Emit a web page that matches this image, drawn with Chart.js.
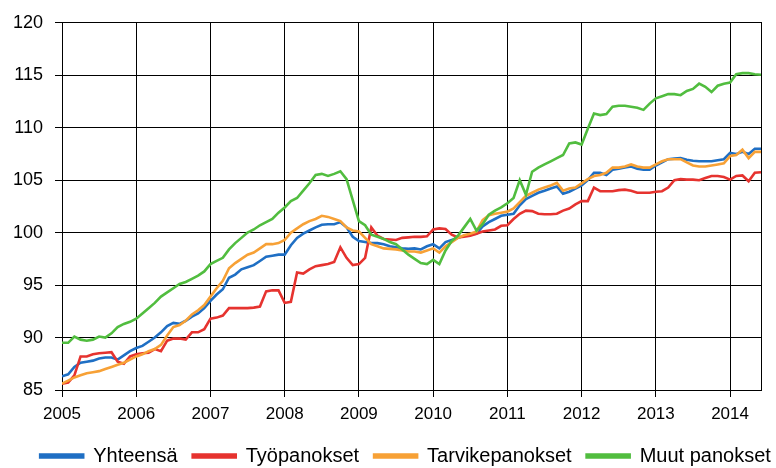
<!DOCTYPE html>
<html>
<head>
<meta charset="utf-8">
<script src="https://cdn.jsdelivr.net/npm/chart.js@4.4.1/dist/chart.umd.min.js"></script>
<style>
  html, body { margin: 0; padding: 0; background: #fff; }
  #wrap { width: 776px; height: 468px; }
</style>
</head>
<body>
<div id="wrap"><canvas id="chart"></canvas></div>
<script>
// --- DATOS (kuukausittain, tammikuu 2005 - kesäkuu 2014) ---
const yearLabels = ['2005', '2006', '2007', '2008', '2009', '2010', '2011', '2012', '2013', '2014'];
const seriesNames = ['Yhteensä', 'Työpanokset', 'Tarvikepanokset', 'Muut panokset'];
const seriesColors = ['#1f6fc4', '#e6332f', '#f7a136', '#51bd3f'];

const yhteensa = [
  86.3, 86.5, 87.2, 87.6, 87.7, 87.8, 88.0, 88.1, 88.1, 87.9, 88.3, 88.7,
  89.0, 89.2, 89.6, 90.0, 90.5, 91.1, 91.4, 91.3, 91.6, 92.0, 92.3, 92.8,
  93.5, 94.1, 94.6, 95.7, 96.0, 96.5, 96.7, 96.9, 97.3, 97.7, 97.8, 97.9,
  97.9, 98.8, 99.5, 99.9, 100.2, 100.5, 100.75, 100.8, 100.8, 101.0, 100.5, 99.6,
  99.2, 99.1, 99.0, 99.0, 98.9, 98.7, 98.6, 98.5, 98.45, 98.5, 98.4, 98.7,
  98.9, 98.5, 99.1, 99.3, 99.5, 99.7, 99.85, 99.9, 100.6, 101.0, 101.3, 101.6,
  101.7, 101.8, 102.6, 103.2, 103.5, 103.8, 104.0, 104.2, 104.4, 103.7, 103.9, 104.2,
  104.5, 105.0, 105.7, 105.7, 105.5, 106.0, 106.1, 106.2, 106.3, 106.1, 106.0, 106.0,
  106.4, 106.7, 107.0, 107.05, 107.1, 106.95, 106.85, 106.8, 106.8, 106.8, 106.9, 107.0,
  107.6, 107.5, 107.7, 107.5, 108.0, 108.0
];
const tyopanokset = [
  85.6, 85.7, 86.4, 88.2, 88.2, 88.4, 88.5, 88.55, 88.6, 87.7, 87.5, 88.2,
  88.4, 88.5, 88.55, 88.9, 88.7, 89.7, 89.9, 89.9, 89.8, 90.5, 90.5, 90.8,
  91.8, 91.9, 92.1, 92.8, 92.8, 92.8, 92.8, 92.85, 92.95, 94.4, 94.5, 94.5,
  93.3, 93.4, 96.2, 96.1, 96.5, 96.8, 96.9, 97.0, 97.2, 98.6, 97.6, 96.9,
  97.0, 97.6, 100.5, 99.7, 99.4, 99.35, 99.3, 99.5, 99.55, 99.6, 99.6, 99.65,
  100.3, 100.4, 100.35, 99.8, 99.55, 99.6, 99.7, 99.9, 100.1, 100.2, 100.3, 100.65,
  100.7, 101.3, 101.8, 102.1, 102.05, 101.8, 101.75, 101.75, 101.8, 102.1, 102.3, 102.7,
  103.0, 103.0, 104.3, 103.95, 103.95, 103.95, 104.05, 104.1, 104.0, 103.8, 103.8, 103.8,
  103.9, 103.95, 104.3, 105.0, 105.1, 105.05, 105.05, 105.0, 105.2, 105.4, 105.4, 105.3,
  105.05, 105.4, 105.45, 104.9, 105.7, 105.75
];
const tarvikepanokset = [
  85.6, 85.9, 86.2, 86.4, 86.6, 86.7, 86.8, 87.0, 87.2, 87.4, 87.6, 87.9,
  88.2, 88.4, 88.7, 88.9, 89.3, 90.2, 91.0, 91.2, 91.6, 92.2, 92.6, 93.1,
  93.9, 94.7, 95.4, 96.6, 97.1, 97.5, 97.9, 98.1, 98.5, 98.9, 98.9, 99.0,
  99.3, 100.0, 100.4, 100.8, 101.1, 101.3, 101.6, 101.5, 101.3, 101.1, 100.5, 100.2,
  100.1, 99.5, 98.9, 98.7, 98.5, 98.45, 98.4, 98.3, 98.2, 98.2, 98.1, 98.3,
  98.5, 98.1, 98.7, 99.1, 99.5, 99.75, 99.9, 100.1, 101.2, 101.65, 101.8, 101.9,
  102.0, 102.3, 102.9, 103.5, 103.8, 104.1, 104.3, 104.5, 104.75, 104.0, 104.2, 104.3,
  104.7, 105.1, 105.4, 105.5, 105.7, 106.2, 106.2, 106.3, 106.5, 106.3, 106.2, 106.2,
  106.5, 106.8, 107.0, 107.0, 107.0, 106.7, 106.4, 106.3, 106.3, 106.4, 106.5, 106.6,
  107.3, 107.4, 107.9, 107.1, 107.7, 107.7
];
const muutPanokset = [
  89.5, 89.5, 90.1, 89.8, 89.7, 89.8, 90.1, 90.0, 90.4, 91.0, 91.3, 91.5,
  91.8, 92.3, 92.8, 93.3, 93.9, 94.3, 94.7, 95.1, 95.3, 95.6, 95.9, 96.3,
  97.0, 97.3, 97.6, 98.4, 99.0, 99.5, 100.0, 100.3, 100.7, 101.0, 101.3, 101.9,
  102.4, 103.0, 103.3, 104.0, 104.7, 105.5, 105.6, 105.4, 105.6, 105.85, 105.1, 103.1,
  101.1, 100.7, 99.8, 99.6, 99.4, 99.1, 98.9, 98.4, 97.9, 97.5, 97.1, 97.0,
  97.4, 97.0, 98.3, 99.2, 99.7, 100.5, 101.3, 100.2, 100.8, 101.7, 102.1, 102.4,
  102.8, 103.3, 105.0, 103.6, 105.8, 106.2, 106.5, 106.8, 107.1, 107.4, 108.5, 108.6,
  108.4, 109.9, 111.35, 111.2, 111.3, 112.0, 112.1, 112.1, 112.0, 111.9, 111.7, 112.3,
  112.8, 113.0, 113.2, 113.2, 113.1, 113.5, 113.7, 114.2, 113.9, 113.4, 114.0, 114.2,
  114.3, 115.1, 115.2, 115.2, 115.1, 115.05
];
const yTicks = [85, 90, 95, 100, 105, 110, 115, 120];

// x = kuukauden järjestysnumero
function toPoints(values) {
  return values.map((v, i) => ({ x: i, y: v }));
}

const allSeries = [yhteensa, tyopanokset, tarvikepanokset, muutPanokset];
const lastIndex = yhteensa.length - 1;

const datasets = allSeries.map((values, k) => ({
  label: seriesNames[k],
  data: toPoints(values),
  borderColor: seriesColors[k],
  backgroundColor: seriesColors[k],
  borderWidth: 2.6,
  pointRadius: 0,
  tension: 0,
  order: allSeries.length - k   // viimeinen sarja päällimmäisenä
}));

// Siirretään selitettä hieman alas ja oikealle
const legendShift = {
  id: 'legendShift',
  afterLayout(chart) {
    const lg = chart.legend;
    if (!lg) return;
    lg.left += 25; lg.right += 25;
    lg.top += 8; lg.bottom += 8;
  }
};

new Chart(document.getElementById('chart'), {
  type: 'line',
  data: { datasets: datasets },
  options: {
    responsive: true,
    maintainAspectRatio: false,
    animation: false,
    layout: { padding: { top: 2, right: 15, left: 0, bottom: 0 } },
    scales: {
      x: {
        type: 'linear',
        min: 0,
        max: lastIndex,
        afterBuildTicks: scale => {
          scale.ticks = yearLabels.map((y, i) => ({ value: i * 12 }));
        },
        afterFit: scale => { scale.height = 33; },
        grid: { color: '#000', lineWidth: 1, tickLength: 7, drawTicks: true },
        border: { color: '#000', width: 1 },
        ticks: {
          color: '#000',
          padding: 7,
          maxRotation: 0,
          autoSkip: false,
          font: { family: '"Liberation Sans", Arial, sans-serif', size: 17 },
          callback: value => yearLabels[value / 12]
        }
      },
      y: {
        min: 85,
        max: 120,
        afterBuildTicks: scale => {
          scale.ticks = yTicks.map(v => ({ value: v }));
        },
        afterFit: scale => { scale.width = 62; },
        grid: { color: '#000', lineWidth: 1, tickLength: 7 },
        border: { color: '#000', width: 1 },
        ticks: {
          color: '#000',
          padding: 12,
          font: { family: '"Liberation Sans", Arial, sans-serif', size: 18 }
        }
      },
      yRight: {
        position: 'right',
        min: 85,
        max: 120,
        grid: { display: false },
        ticks: { display: false },
        border: { color: '#000', width: 1 },
        afterFit: scale => { scale.width = 0; }
      }
    },
    plugins: {
      legend: {
        position: 'bottom',
        labels: {
          boxWidth: 43,
          boxHeight: 3,
          padding: 15,
          color: '#000',
          font: { family: '"Liberation Sans", Arial, sans-serif', size: 20 },
          sort: (a, b) => a.datasetIndex - b.datasetIndex
        }
      },
      tooltip: { enabled: false }
    }
  },
  plugins: [legendShift]
});
</script>
</body>
</html>
